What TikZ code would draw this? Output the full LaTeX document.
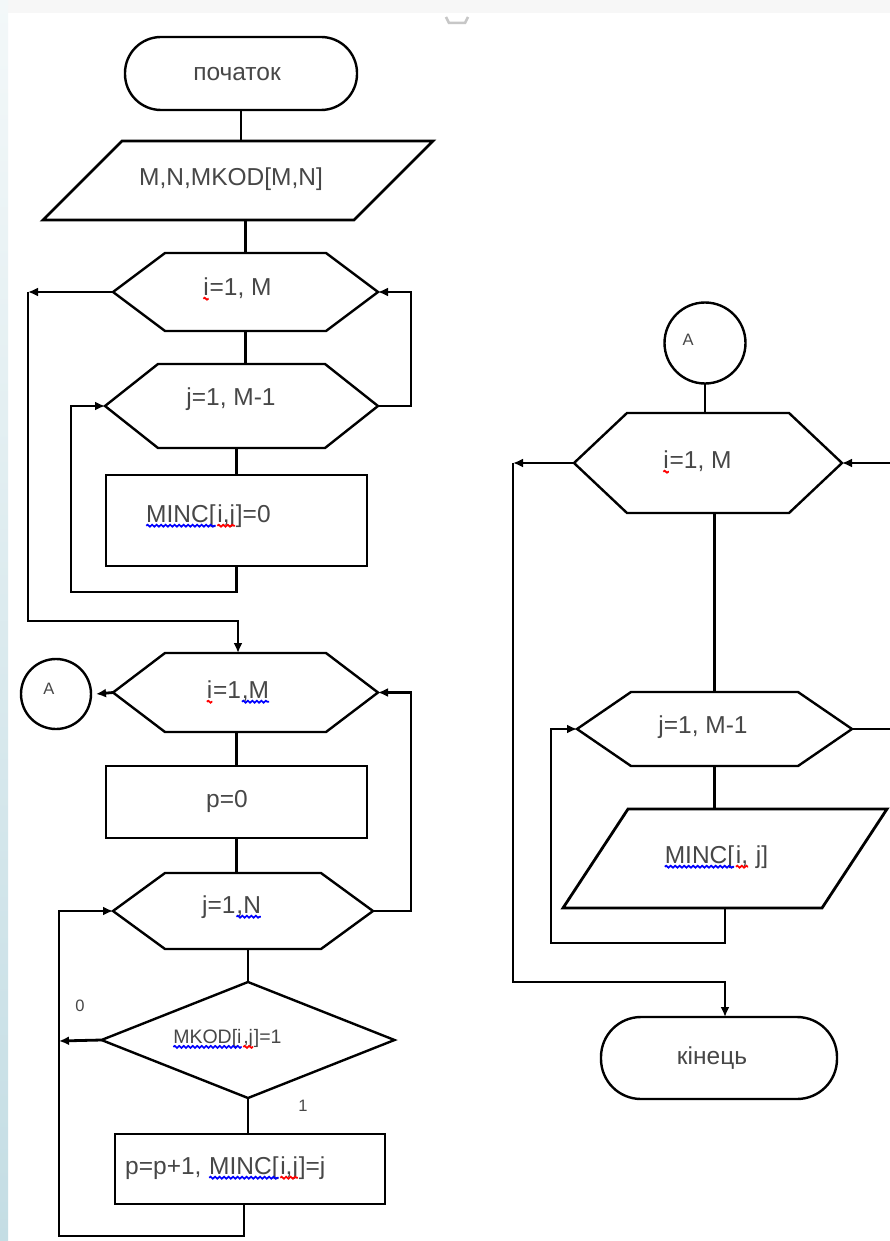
\documentclass[tikz,border=0pt]{standalone}
\usepackage{fontspec}
\setmainfont{Liberation Sans}
\usetikzlibrary{arrows.meta,decorations.pathmorphing,calc}

\definecolor{stripTop}{HTML}{F3F8F9}
\definecolor{stripBot}{HTML}{C4DDE4}

\tikzset{
  wire/.style={line width=2.8pt, line join=miter},
  flow/.style={wire, -{Latex[length=10pt,width=9pt]}},
  outline/.style={draw, line width=2.8pt},
  thinoutline/.style={draw, line width=2.4pt},
  frame/.style={rectangle, inner sep=0pt, outer sep=0pt, draw=none},
  procbox/.style={frame, outline},
  termbox/.style={frame, thinoutline, rounded corners=#1},
  conn/.style={circle, thinoutline, inner sep=0pt, outer sep=0pt, minimum size=#1},
  txt/.style={inner sep=0pt, text=black!72, font=\fontsize{24.5}{28}\selectfont},
  midtxt/.style={txt, font=\fontsize{19.5}{23}\selectfont},
  smalltxt/.style={txt, font=\fontsize{16.5}{19}\selectfont},
}

% wavy spell-check style underline under a piece of text
\newcommand\spellmark[2]{\tikz[baseline=(sq.base)]{\node[inner sep=0pt, outer sep=0pt] (sq) {#2};
  \draw[#1, line width=1.7pt, decorate, decoration={snake, amplitude=1pt, segment length=4.5pt}]
    ([yshift=-3.5pt]sq.base west) -- ([yshift=-3.5pt]sq.base east);}}

% loop header: name, cx, cy, width, height, depth of the pointed ends
\newcommand\hexnode[6]{%
  \node[frame, minimum width=#4pt, minimum height=#5pt] (#1) at (#2,#3) {};
  \draw[thinoutline] (#1.west) -- ([xshift=#6pt]#1.north west) -- ([xshift=-#6pt]#1.north east)
    -- (#1.east) -- ([xshift=-#6pt]#1.south east) -- ([xshift=#6pt]#1.south west) -- cycle;}

% input/output block: name, cx, cy, width, height, slant
\newcommand\ionode[6]{%
  \node[frame, minimum width=#4pt, minimum height=#5pt] (#1) at (#2,#3) {};
  \draw[outline] ([xshift=#6pt]#1.north west) -- (#1.north east)
    -- ([xshift=-#6pt]#1.south east) -- (#1.south west) -- cycle;}

\begin{document}
\begin{tikzpicture}[x=1pt,y=-1pt]
\useasboundingbox (0,0) rectangle (890,1241);
\fill[white] (0,0) rectangle (890,1241);
\fill[black!3] (0,0) rectangle (890,13);
\shade[top color=stripTop, bottom color=stripBot] (0,0) rectangle (8,1241);
\draw[black!22, line width=2.5pt] (446,17) -- (449,23) -- (465,23) -- (468,17);

% ---------- left column ----------
\node[termbox=36pt, minimum width=232pt, minimum height=73pt] (start) at (241,73.5) {};
\node[txt] (tstart) at (237,74) {початок};

\ionode{io1}{238}{180.5}{390}{79}{79}
\node[txt] (tio1) at (231,179) {M,N,MKOD[M,N]};

\hexnode{h1}{245.5}{292}{265}{78}{52}
\node[txt] (th1) at (237,289) {\spellmark{red}{i}=1, M};

\hexnode{h2}{241.5}{406}{273}{84}{53}
\node[txt] (th2) at (231,399) {j=1, M-1};

\node[procbox, minimum width=261pt, minimum height=91pt] (r1) at (236.5,520.5) {};
\node[txt] (tr1) at (208,516) {\spellmark{blue}{MINC[}\spellmark{red}{i,j}]=0};

\hexnode{h3}{245.5}{692.5}{265}{79}{52}
\node[txt] (th3) at (238,692) {\spellmark{red}{i}=1\spellmark{blue}{,M}};

\node[conn=70pt] (ca1) at (56,694) {};
\node[smalltxt] (tca1) at (49,689) {A};

\node[procbox, minimum width=261pt, minimum height=72pt] (r2) at (236.5,802) {};
\node[txt] (tr2) at (227,801) {p=0};

\hexnode{h4}{243}{911}{260}{76}{52}
\node[txt] (th4) at (232,907) {j=1\spellmark{blue}{,N}};

\node[frame, minimum width=293pt, minimum height=116pt] (dec) at (248,1040) {};
\draw[thinoutline] (dec.north) -- (dec.east) -- (dec.south) -- (dec.west) -- cycle;
\node[midtxt] (tdec) at (227,1039) {\spellmark{blue}{MKOD[i}\spellmark{red}{,j}]=1};
\node[smalltxt] (lzero) at (80,1006) {0};
\node[smalltxt] (lone) at (303,1106) {1};

\node[procbox, minimum width=270pt, minimum height=70pt] (r3) at (250,1169) {};
\node[txt, anchor=west] (tr3) at (125,1168) {p=p+1, \spellmark{blue}{MINC[}\spellmark{red}{i,j}]=j};

% ---------- right column ----------
\node[conn=81pt] (ca2) at (705,343) {};
\node[smalltxt] (tca2) at (688,340) {A};

\hexnode{h5}{708}{463}{268}{100}{53}
\node[txt] (th5) at (697,462) {\spellmark{red}{i}=1, M};

\hexnode{h6}{714.5}{729}{275}{74}{54}
\node[txt] (th6) at (703,727) {j=1, M-1};

\ionode{io2}{725}{858.5}{324}{99}{65}
\node[txt] (tio2) at (716,857) {\spellmark{blue}{MINC[}\spellmark{red}{i,} j]};

\node[termbox=40pt, minimum width=236pt, minimum height=82pt] (stop) at (719,1058) {};
\node[txt] (tstop) at (712,1058) {кінець};

% ---------- connectors, left column ----------
\coordinate (k1) at (411,406);
\coordinate (k2) at (28,292);
\coordinate (k3) at (238,621);
\coordinate (k4) at (411,911);
\coordinate (k5) at (59,1041);
\coordinate (k6) at (244,1236);
\coordinate (k7) at (59,1236);
\coordinate (l2) at (71,592);

\draw[wire] (start.south) -- (start.south |- io1.north);
\draw[wire] (h1.north |- io1.south) -- (h1.north);
\draw[wire] (h1.south) -- (h1.south |- h2.north);
\draw[wire] (r1.north |- h2.south) -- (r1.north);
\draw[flow] (r1.south) |- (l2) |- (h2.west);
\draw[flow] (h2.east) -| (k1) |- (h1.east);
\draw[flow] (h1.west) -- (k2);
\draw[flow] (k2) |- (k3) -- (k3 |- h3.north);
\draw[flow] (h3.west) -- ([xshift=5pt]ca1.east);
\draw[wire] (r2.north |- h3.south) -- (r2.north);
\draw[wire] (r2.south) -- (r2.south |- h4.north);
\draw[flow] (h4.east) -| (k4) |- (h3.east);
\draw[wire] (dec.north |- h4.south) -- (dec.north);
\draw[wire] (dec.south) -- (dec.south |- r3.north);
\draw[flow] (dec.west) -- (k5);
\draw[flow] (k6 |- r3.south) -- (k6) -- (k7) |- (h4.west);

% ---------- connectors, right column ----------
\coordinate (k8) at (513,463);
\coordinate (k10) at (725,982);
\coordinate (k11) at (551,943);
\coordinate (e1) at (891,463);
\coordinate (e2) at (891,729);

\draw[wire] (ca2.south) -- (ca2.south |- h5.north);
\draw[flow] (h5.west) -- (k8);
\draw[flow] (k8) |- (k10) -- (k10 |- stop.north);
\draw[flow] (e1) -- (h5.east);
\draw[wire] (h6.north |- h5.south) -- (h6.north);
\draw[wire] (h6.east) -- (e2);
\draw[wire] (h6.south) -- (h6.south |- io2.north);
\draw[flow] (io2.south) |- (k11) |- (h6.west);
\end{tikzpicture}
\end{document}
